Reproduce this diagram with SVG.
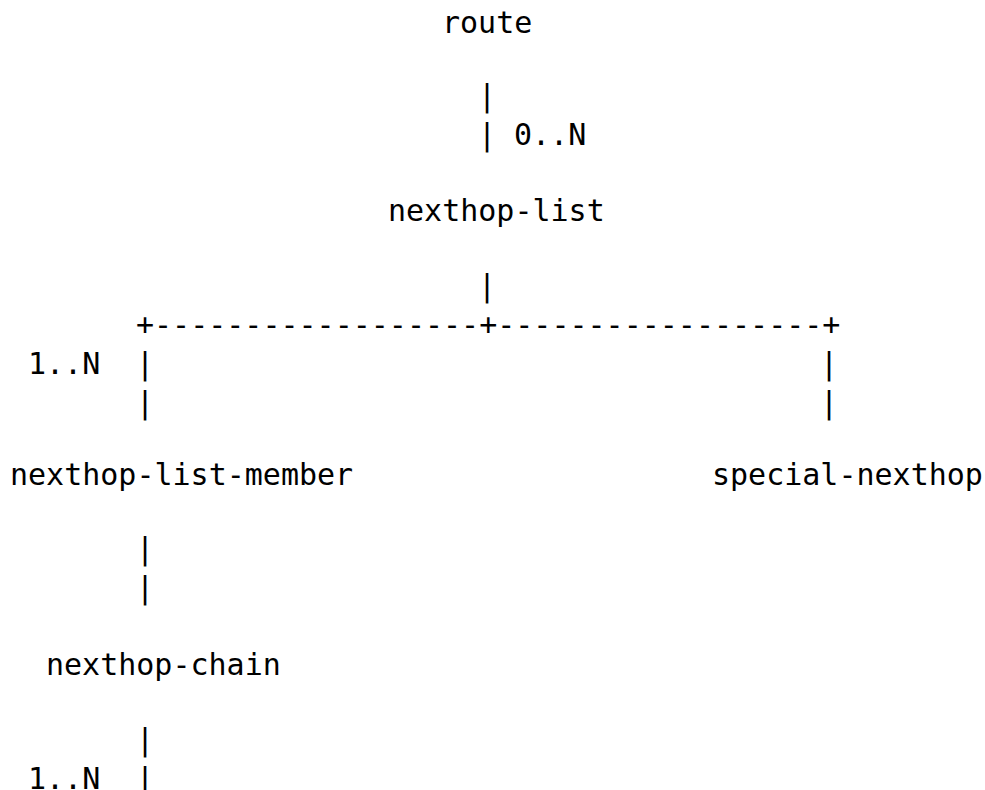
<svg xmlns="http://www.w3.org/2000/svg" width="985" height="790" viewBox="0 0 985 790">
<style>
text{font-family:"DejaVu Sans Mono","Liberation Mono",monospace;font-size:30px;fill:#000;}
</style>
<rect width="985" height="790" fill="#fff"/>
<g id="connectors">
<text x="478" y="106">|</text>
<text x="478" y="145">|</text>
<text x="514" y="145">0..N</text>
<text x="478" y="296">|</text>
<text x="136" y="335">+------------------+------------------+</text>
<text x="28" y="374">1..N</text>
<text x="136" y="374">|</text>
<text x="820" y="374">|</text>
<text x="136" y="413">|</text>
<text x="820" y="413">|</text>
<text x="136" y="559">|</text>
<text x="136" y="598">|</text>
<text x="136" y="750">|</text>
<text x="28" y="789">1..N</text>
<text x="136" y="789">|</text>
</g>
<g id="route"><text x="442" y="33">route</text></g>
<g id="nexthop-list"><text x="388" y="221">nexthop-list</text></g>
<g id="nexthop-list-member"><text x="10" y="485">nexthop-list-member</text></g>
<g id="special-nexthop"><text x="712" y="485">special-nexthop</text></g>
<g id="nexthop-chain"><text x="46" y="675">nexthop-chain</text></g>
</svg>
